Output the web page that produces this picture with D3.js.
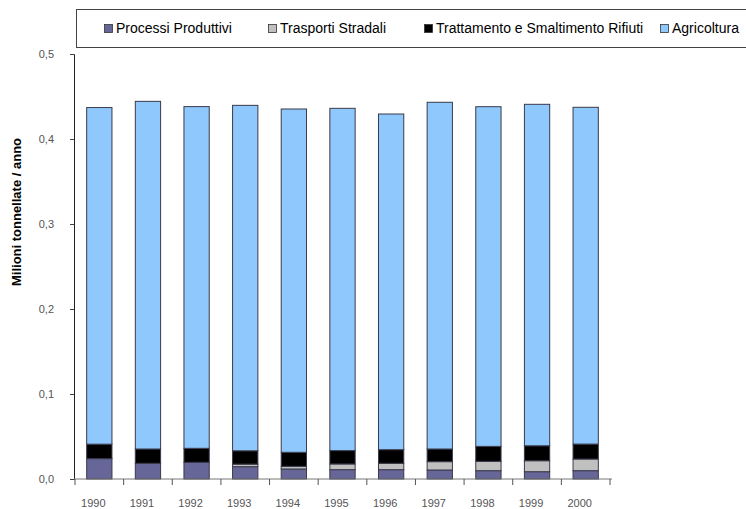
<!DOCTYPE html>
<html>
<head>
<meta charset="utf-8">
<script src="https://cdn.jsdelivr.net/npm/d3@7"></script>
<style>
  html, body { margin: 0; padding: 0; background: #fff; }
  svg { display: block; font-family: "Liberation Sans", Arial, sans-serif; }
</style>
</head>
<body>
<svg id="chart" width="746" height="509"></svg>
<script>
// Emissioni annue per settore (milioni di tonnellate / anno)
const years = ["1990", "1991", "1992", "1993", "1994", "1995", "1996", "1997", "1998", "1999", "2000"];
const processiProduttivi = [0.024, 0.0185, 0.0196, 0.0145, 0.0118, 0.011, 0.011, 0.0106, 0.0098, 0.0086, 0.0098];
const trasportiStradali  = [0.0, 0.0, 0.0, 0.003, 0.0031, 0.0067, 0.0075, 0.0098, 0.011, 0.0129, 0.0137];
const rifiuti            = [0.017, 0.0168, 0.0165, 0.0157, 0.0165, 0.0157, 0.016, 0.0149, 0.0176, 0.0176, 0.0176];
const agricoltura        = [0.396, 0.409, 0.402, 0.4064, 0.4039, 0.4027, 0.3949, 0.4079, 0.3996, 0.4017, 0.3962];
const yTicks = [0, 0.1, 0.2, 0.3, 0.4, 0.5];

const seriesKeys = ["Processi Produttivi", "Trasporti Stradali", "Trattamento e Smaltimento Rifiuti", "Agricoltura"];
const seriesColors = ["#666699", "#c0c0c0", "#000000", "#8fc8fd"];
const seriesValues = [processiProduttivi, trasportiStradali, rifiuti, agricoltura];

const rows = years.map((y, i) => {
  const r = { year: y };
  seriesKeys.forEach((k, j) => { r[k] = seriesValues[j][i]; });
  return r;
});

const svg = d3.select("#chart");

const x = d3.scaleBand().domain(years).range([75, 610]).padding(0);
const y = d3.scaleLinear().domain([0, 0.5]).range([479, 54]);
const barW = x.bandwidth() * 0.52;

const stacked = d3.stack().keys(seriesKeys)(rows);

// Bars
const layers = svg.append("g")
  .selectAll("g")
  .data(stacked)
  .join("g")
  .attr("fill", (d, i) => seriesColors[i]);

layers.selectAll("rect")
  .data(d => d.filter(p => p[1] - p[0] > 0))
  .join("rect")
  .attr("x", d => x(d.data.year) + (x.bandwidth() - barW) / 2)
  .attr("y", d => y(d[1]))
  .attr("width", barW)
  .attr("height", d => y(d[0]) - y(d[1]))
  .attr("stroke", "#3a3a4a")
  .attr("stroke-width", 1);

// Y axis
const yAxis = d3.axisLeft(y)
  .tickValues(yTicks)
  .tickSize(4)
  .tickPadding(16)
  .tickFormat(d => d3.format(".1f")(d).replace(".", ","));

const gy = svg.append("g")
  .attr("transform", "translate(74,0)")
  .call(yAxis);
gy.select(".domain").attr("stroke", "#222");
gy.selectAll(".tick line").attr("stroke", "#444");
gy.selectAll(".tick text")
  .attr("fill", "#555")
  .style("font-size", "11px")
  .style("font-family", "'Liberation Sans', Arial, sans-serif");

// X axis (ticks between categories)
const gx = svg.append("g")
  .attr("transform", "translate(0,479)");
gx.append("line")
  .attr("x1", 74).attr("x2", x.range()[1] + 2)
  .attr("y1", 0).attr("y2", 0)
  .attr("stroke", "#777");
gx.selectAll("line.sep")
  .data(years.concat(["end"]))
  .join("line")
  .attr("class", "sep")
  .attr("x1", (d, i) => i < years.length ? x(d) : x.range()[1])
  .attr("x2", (d, i) => i < years.length ? x(d) : x.range()[1])
  .attr("y1", 0).attr("y2", 6)
  .attr("stroke", "#555");
gx.selectAll("text")
  .data(years)
  .join("text")
  .attr("x", d => x(d) + x.bandwidth() / 2 - 6)
  .attr("y", 28)
  .attr("text-anchor", "middle")
  .attr("fill", "#555")
  .style("font-size", "11px")
  .text(d => d);

// Y axis title
svg.append("text")
  .attr("transform", "translate(21,212) rotate(-90)")
  .attr("text-anchor", "middle")
  .style("font-size", "13px")
  .style("font-weight", "bold")
  .attr("fill", "#000")
  .text("Milioni tonnellate / anno");

// Legend
const legend = svg.append("g");
legend.append("rect")
  .attr("x", 76.5).attr("y", 9.5)
  .attr("width", 700).attr("height", 38)
  .attr("fill", "#fff")
  .attr("stroke", "#444");

const legendX = [104, 268, 424, 660];
const items = legend.selectAll("g.item")
  .data(seriesKeys)
  .join("g")
  .attr("class", "item")
  .attr("transform", (d, i) => `translate(${legendX[i]},0)`);
items.append("rect")
  .attr("x", 0.5).attr("y", 24.5)
  .attr("width", 8).attr("height", 8)
  .attr("fill", (d, i) => seriesColors[i])
  .attr("stroke", "#333")
  .attr("stroke-width", 0.8);
items.append("text")
  .attr("x", 12)
  .attr("y", 33)
  .style("font-size", "14px")
  .attr("fill", "#000")
  .text(d => d);
</script>
</body>
</html>
